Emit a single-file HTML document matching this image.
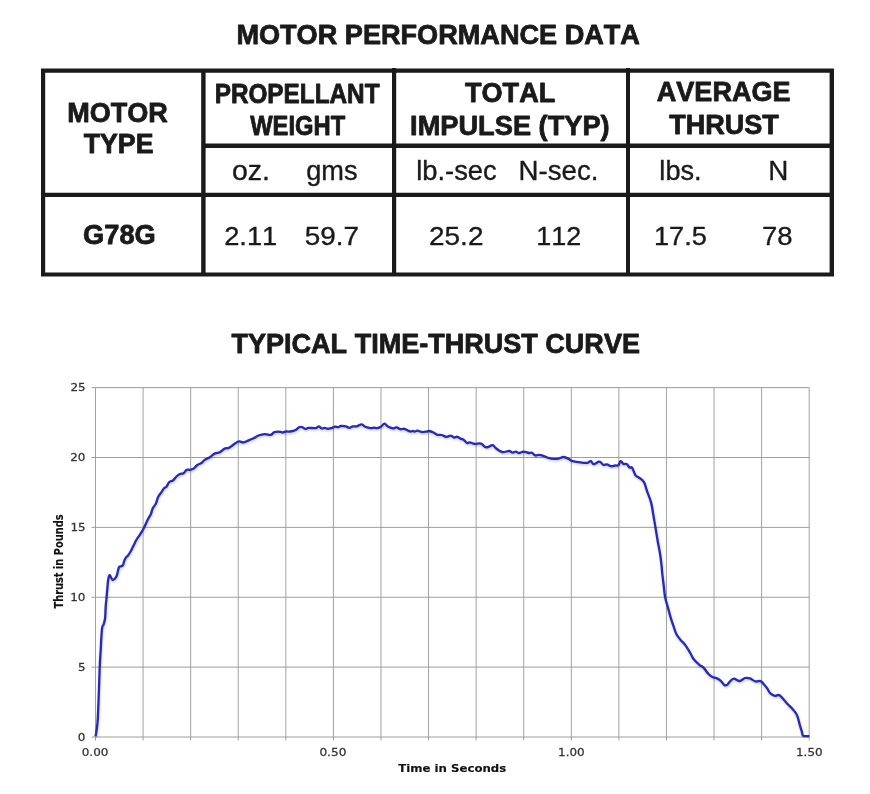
<!DOCTYPE html>
<html lang="en"><head><meta charset="utf-8"><title>Motor Performance Data</title>
<style>html,body{margin:0;padding:0;background:#fff}svg{display:block}text{font-kerning:none;font-variant-ligatures:none}</style></head>
<body>
<svg width="870" height="794" viewBox="0 0 870 794" role="img" aria-label="Motor performance data table and typical time-thrust curve">
<rect width="870" height="794" fill="#fff"/>
<path fill="#1a1a1a" fill-rule="nonzero" d="M41 68.6H834V72.8H41ZM41 272.4H834V276.6H41ZM41 68.6H45.2V276.6H41ZM829.6 68.6H834V276.6H829.6ZM201.2 68.6H205.6V276.6H201.2ZM392 68H396.2V276.6H392ZM626 68H630V276.6H626ZM201.2 143.6H834V148H201.2ZM41 192.8H834V197H41Z"/>
<g fill="#1a1a1a">
<text transform="translate(236.39 43.65) scale(0.9687 1)" font-family="'Liberation Sans', sans-serif" font-weight="bold" font-size="28.0"  stroke="#1a1a1a" stroke-width="0.8" stroke-linejoin="round" vector-effect="non-scaling-stroke">MOTOR PERFORMANCE DATA</text>
<text transform="translate(231.50 353.30) scale(0.9656 1)" font-family="'Liberation Sans', sans-serif" font-weight="bold" font-size="28.0"  stroke="#1a1a1a" stroke-width="0.8" stroke-linejoin="round" vector-effect="non-scaling-stroke">TYPICAL TIME-THRUST CURVE</text>
<text transform="translate(67.19 121.50) scale(0.9739 1)" font-family="'Liberation Sans', sans-serif" font-weight="bold" font-size="27.8"  stroke="#1a1a1a" stroke-width="0.8" stroke-linejoin="round" vector-effect="non-scaling-stroke">MOTOR</text>
<text transform="translate(83.70 153.40) scale(0.9619 1)" font-family="'Liberation Sans', sans-serif" font-weight="bold" font-size="27.8"  stroke="#1a1a1a" stroke-width="0.8" stroke-linejoin="round" vector-effect="non-scaling-stroke">TYPE</text>
<text transform="translate(214.67 103.20) scale(0.8751 1)" font-family="'Liberation Sans', sans-serif" font-weight="bold" font-size="27.8"  stroke="#1a1a1a" stroke-width="0.8" stroke-linejoin="round" vector-effect="non-scaling-stroke">PROPELLANT</text>
<text transform="translate(250.18 135.30) scale(0.8551 1)" font-family="'Liberation Sans', sans-serif" font-weight="bold" font-size="27.8"  stroke="#1a1a1a" stroke-width="0.8" stroke-linejoin="round" vector-effect="non-scaling-stroke">WEIGHT</text>
<text transform="translate(465.00 102.40) scale(0.9740 1)" font-family="'Liberation Sans', sans-serif" font-weight="bold" font-size="27.8"  stroke="#1a1a1a" stroke-width="0.8" stroke-linejoin="round" vector-effect="non-scaling-stroke">TOTAL</text>
<text transform="translate(410.08 135.40) scale(0.9794 1)" font-family="'Liberation Sans', sans-serif" font-weight="bold" font-size="27.8"  stroke="#1a1a1a" stroke-width="0.8" stroke-linejoin="round" vector-effect="non-scaling-stroke">IMPULSE (TYP)</text>
<text transform="translate(656.83 101.20) scale(0.9720 1)" font-family="'Liberation Sans', sans-serif" font-weight="bold" font-size="27.8"  stroke="#1a1a1a" stroke-width="0.8" stroke-linejoin="round" vector-effect="non-scaling-stroke">AVERAGE</text>
<text transform="translate(669.20 133.80) scale(0.9730 1)" font-family="'Liberation Sans', sans-serif" font-weight="bold" font-size="27.8"  stroke="#1a1a1a" stroke-width="0.8" stroke-linejoin="round" vector-effect="non-scaling-stroke">THRUST</text>
<text transform="translate(83.08 243.65) scale(0.9733 1)" font-family="'Liberation Sans', sans-serif" font-weight="bold" font-size="28"  stroke="#1a1a1a" stroke-width="0.8" stroke-linejoin="round" vector-effect="non-scaling-stroke">G78G</text>
<text transform="translate(231.98 179.50) scale(1.0534 1)" font-family="'Liberation Sans', sans-serif" font-weight="normal" font-size="27"  stroke="#1a1a1a" stroke-width="0.35" stroke-linejoin="round" vector-effect="non-scaling-stroke">oz.</text>
<text transform="translate(306.23 179.50) scale(1.0072 1)" font-family="'Liberation Sans', sans-serif" font-weight="normal" font-size="27"  stroke="#1a1a1a" stroke-width="0.35" stroke-linejoin="round" vector-effect="non-scaling-stroke">gms</text>
<text transform="translate(416.13 179.50) scale(1.0137 1)" font-family="'Liberation Sans', sans-serif" font-weight="normal" font-size="27"  stroke="#1a1a1a" stroke-width="0.35" stroke-linejoin="round" vector-effect="non-scaling-stroke">lb.-sec</text>
<text transform="translate(518.51 179.50) scale(1.0249 1)" font-family="'Liberation Sans', sans-serif" font-weight="normal" font-size="27"  stroke="#1a1a1a" stroke-width="0.35" stroke-linejoin="round" vector-effect="non-scaling-stroke">N-sec.</text>
<text transform="translate(659.35 179.70) scale(1.0133 1)" font-family="'Liberation Sans', sans-serif" font-weight="normal" font-size="26.8"  stroke="#1a1a1a" stroke-width="0.35" stroke-linejoin="round" vector-effect="non-scaling-stroke">lbs.</text>
<text transform="translate(768.19 179.70) scale(1.0387 1)" font-family="'Liberation Sans', sans-serif" font-weight="normal" font-size="26.8"  stroke="#1a1a1a" stroke-width="0.35" stroke-linejoin="round" vector-effect="non-scaling-stroke">N</text>
<text transform="translate(224.15 244.85) scale(1.0510 1)" font-family="'Liberation Sans', sans-serif" font-weight="normal" font-size="26.0"  stroke="#1a1a1a" stroke-width="0.35" stroke-linejoin="round" vector-effect="non-scaling-stroke">2.11</text>
<text transform="translate(304.86 244.85) scale(1.0724 1)" font-family="'Liberation Sans', sans-serif" font-weight="normal" font-size="26.0"  stroke="#1a1a1a" stroke-width="0.35" stroke-linejoin="round" vector-effect="non-scaling-stroke">59.7</text>
<text transform="translate(429.07 244.85) scale(1.0742 1)" font-family="'Liberation Sans', sans-serif" font-weight="normal" font-size="26.0"  stroke="#1a1a1a" stroke-width="0.35" stroke-linejoin="round" vector-effect="non-scaling-stroke">25.2</text>
<text transform="translate(536.18 244.85) scale(1.0374 1)" font-family="'Liberation Sans', sans-serif" font-weight="normal" font-size="26.0"  stroke="#1a1a1a" stroke-width="0.35" stroke-linejoin="round" vector-effect="non-scaling-stroke">112</text>
<text transform="translate(653.96 244.85) scale(1.0455 1)" font-family="'Liberation Sans', sans-serif" font-weight="normal" font-size="26.0"  stroke="#1a1a1a" stroke-width="0.35" stroke-linejoin="round" vector-effect="non-scaling-stroke">17.5</text>
<text transform="translate(762.07 244.85) scale(1.0564 1)" font-family="'Liberation Sans', sans-serif" font-weight="normal" font-size="26.0"  stroke="#1a1a1a" stroke-width="0.35" stroke-linejoin="round" vector-effect="non-scaling-stroke">78</text>
</g>
<g stroke="#a0a2a2" stroke-width="1" fill="none">
<line x1="95.50" y1="387.62" x2="95.50" y2="740.50"/>
<line x1="143.08" y1="387.62" x2="143.08" y2="740.50"/>
<line x1="190.66" y1="387.62" x2="190.66" y2="740.50"/>
<line x1="238.24" y1="387.62" x2="238.24" y2="740.50"/>
<line x1="285.82" y1="387.62" x2="285.82" y2="740.50"/>
<line x1="333.40" y1="387.62" x2="333.40" y2="740.50"/>
<line x1="380.98" y1="387.62" x2="380.98" y2="740.50"/>
<line x1="428.56" y1="387.62" x2="428.56" y2="740.50"/>
<line x1="476.14" y1="387.62" x2="476.14" y2="740.50"/>
<line x1="523.72" y1="387.62" x2="523.72" y2="740.50"/>
<line x1="571.30" y1="387.62" x2="571.30" y2="740.50"/>
<line x1="618.88" y1="387.62" x2="618.88" y2="740.50"/>
<line x1="666.46" y1="387.62" x2="666.46" y2="740.50"/>
<line x1="714.04" y1="387.62" x2="714.04" y2="740.50"/>
<line x1="761.62" y1="387.62" x2="761.62" y2="740.50"/>
<line x1="809.20" y1="387.62" x2="809.20" y2="740.50"/>
</g>
<line x1="91.50" y1="737.00" x2="809.20" y2="737.00" stroke="#9c9e9e" stroke-width="1"/>
<line x1="91.50" y1="667.12" x2="809.20" y2="667.12" stroke="#9c9e9e" stroke-width="1"/>
<line x1="91.50" y1="597.25" x2="809.20" y2="597.25" stroke="#9c9e9e" stroke-width="1"/>
<line x1="91.50" y1="527.37" x2="809.20" y2="527.37" stroke="#9c9e9e" stroke-width="1"/>
<line x1="91.50" y1="457.50" x2="809.20" y2="457.50" stroke="#9c9e9e" stroke-width="1"/>
<line x1="91.50" y1="387.62" x2="809.20" y2="387.62" stroke="#9c9e9e" stroke-width="1"/>
<defs><clipPath id="plot"><rect x="90" y="380" width="719.90" height="357.90"/></clipPath></defs>
<g clip-path="url(#plot)">
<defs><filter id="sh" x="-5%" y="-5%" width="110%" height="110%"><feGaussianBlur stdDeviation="0.9"/></filter></defs>
<path d="M95.6 736.3C95.9 734.7 96.5 731.8 96.9 728.2C97.3 724.6 97.4 724.9 97.8 718.1C98.2 711.3 98.4 704.8 98.8 694.2C99.2 683.6 99.4 674.0 99.8 665.2C100.2 656.4 100.4 655.4 100.7 650.0C101.0 644.6 101.0 642.7 101.3 638.2C101.6 633.7 101.7 630.3 102.2 627.5C102.7 624.7 103.0 626.2 103.6 624.3C104.2 622.4 104.7 621.5 105.1 618.0C105.5 614.5 105.4 610.9 105.7 606.7C106.0 602.5 106.3 601.0 106.6 597.2C106.9 593.4 107.1 591.4 107.4 587.8C107.7 584.2 107.9 581.5 108.3 579.0C108.7 576.5 109.0 575.6 109.5 575.2C110.0 574.8 110.2 576.2 110.8 577.1C111.4 578.0 111.6 579.2 112.4 579.6C113.2 580.0 113.7 579.8 114.6 579.0C115.5 578.2 116.0 577.4 116.7 575.8C117.4 574.2 117.5 572.6 118.0 570.8C118.5 569.0 118.5 567.9 119.2 567.0C119.9 566.1 120.7 566.5 121.5 566.1C122.3 565.7 122.4 566.0 123.0 564.9C123.6 563.8 123.7 562.2 124.3 560.7C124.9 559.2 125.2 558.6 125.9 557.6C126.6 556.6 126.9 556.8 127.8 555.7C128.7 554.6 129.2 553.9 130.3 552.0C131.4 550.1 132.0 548.7 133.2 546.3C134.4 543.9 134.9 542.4 136.3 540.0C137.7 537.6 138.6 536.7 140.1 534.3C141.6 531.9 142.4 530.9 143.9 528.0C145.4 525.1 146.3 522.6 147.7 519.8C149.1 517.0 149.8 516.5 150.8 514.2C151.8 511.9 151.7 510.6 152.7 508.5C153.7 506.4 154.8 505.8 155.9 503.5C157.0 501.2 156.9 499.5 158.0 497.2C159.1 494.9 160.3 493.9 161.5 492.1C162.7 490.3 163.0 489.4 164.0 488.3C165.0 487.2 165.5 487.7 166.6 486.4C167.7 485.1 168.0 483.2 169.3 482.0C170.6 480.8 171.6 481.5 172.9 480.5C174.2 479.5 174.6 478.3 176.0 477.0C177.4 475.7 178.3 474.9 179.8 474.1C181.3 473.3 182.2 474.1 183.6 473.2C185.0 472.3 185.4 470.5 186.7 469.8C188.0 469.1 188.5 470.0 189.9 469.8C191.3 469.6 192.1 469.6 193.6 468.6C195.1 467.6 195.8 466.2 197.4 465.0C199.0 463.8 200.3 463.8 201.8 462.8C203.3 461.8 203.0 461.1 204.7 459.9C206.4 458.7 208.1 458.2 210.2 456.9C212.3 455.6 213.1 454.3 215.0 453.4C216.9 452.5 217.9 453.3 219.8 452.3C221.7 451.3 222.9 449.5 224.7 448.6C226.5 447.7 227.0 448.7 228.8 447.9C230.6 447.1 231.6 445.8 233.6 444.5C235.6 443.2 237.0 441.8 238.9 441.4C240.8 441.0 241.5 442.6 243.3 442.4C245.1 442.2 246.0 441.4 248.1 440.6C250.2 439.8 251.5 439.3 253.6 438.3C255.7 437.3 256.2 436.3 258.4 435.5C260.6 434.7 262.2 434.2 264.7 434.1C267.2 434.0 269.0 435.2 270.9 434.8C272.8 434.4 272.4 432.7 274.3 432.1C276.2 431.5 278.8 431.7 280.5 431.8C282.2 431.9 281.5 432.6 282.6 432.5C283.7 432.4 284.5 431.7 286.0 431.5C287.5 431.3 288.3 431.8 290.2 431.5C292.1 431.2 293.9 430.9 295.7 430.0C297.5 429.1 297.9 427.8 299.1 427.2C300.3 426.6 300.7 426.7 301.9 427.0C303.1 427.3 303.9 428.7 305.3 428.9C306.7 429.1 306.8 428.1 308.8 427.9C310.8 427.7 313.5 428.4 315.5 428.1C317.5 427.8 317.8 426.3 319.0 426.4C320.2 426.5 320.6 428.2 321.7 428.5C322.8 428.8 323.3 427.7 324.5 427.8C325.7 427.9 326.4 428.8 327.9 428.8C329.4 428.8 330.7 428.2 332.1 427.8C333.5 427.4 333.6 426.8 334.8 426.7C336.0 426.6 337.1 427.2 338.3 427.1C339.5 427.0 339.5 426.1 341.0 426.0C342.5 425.9 344.2 426.0 345.9 426.4C347.6 426.8 347.9 427.8 349.3 427.8C350.7 427.8 351.3 426.7 352.8 426.4C354.3 426.1 355.1 426.7 356.9 426.3C358.7 425.9 360.0 424.3 361.7 424.4C363.4 424.5 363.4 426.0 365.2 426.7C367.0 427.4 368.9 427.9 370.7 428.1C372.5 428.3 372.9 427.6 374.1 427.6C375.3 427.6 375.5 428.3 376.9 428.1C378.3 427.9 379.5 427.6 381.0 426.7C382.5 425.8 383.1 423.8 384.5 423.7C385.9 423.6 386.2 425.5 387.9 426.4C389.6 427.3 391.1 428.2 392.8 428.4C394.5 428.6 395.1 427.2 396.6 427.4C398.1 427.6 398.7 428.9 400.3 429.2C401.9 429.5 402.6 428.4 404.5 428.8C406.4 429.2 408.3 431.0 410.0 431.4C411.7 431.8 411.8 430.9 412.8 430.9C413.8 430.9 413.8 431.7 414.8 431.6C415.8 431.5 416.2 430.5 417.6 430.6C419.0 430.7 419.9 431.8 421.7 432.0C423.5 432.2 425.2 431.8 426.6 431.6C428.0 431.4 427.4 430.8 428.9 431.0C430.4 431.2 432.3 432.0 434.0 432.8C435.7 433.6 435.9 434.4 437.4 434.8C438.9 435.2 439.8 434.6 441.6 435.0C443.4 435.4 444.5 436.7 446.4 436.8C448.3 436.9 449.4 435.5 450.9 435.6C452.4 435.7 452.7 437.3 454.0 437.5C455.3 437.7 456.0 436.5 457.4 436.8C458.8 437.1 459.7 438.3 460.9 438.9C462.1 439.5 462.4 438.9 463.6 439.7C464.8 440.5 465.9 442.5 467.1 443.0C468.3 443.5 468.3 442.1 469.8 442.3C471.3 442.5 472.5 443.6 474.7 443.9C476.9 444.2 478.8 443.0 480.9 443.6C483.0 444.2 483.5 446.2 485.0 446.9C486.5 447.6 486.9 447.3 488.4 446.9C489.9 446.5 491.1 444.8 492.6 445.1C494.1 445.4 494.1 446.9 496.0 448.3C497.9 449.7 499.6 451.5 502.2 452.0C504.8 452.5 507.0 450.9 509.1 451.0C511.2 451.1 511.2 452.6 512.6 452.7C514.0 452.8 514.8 451.5 516.0 451.6C517.2 451.7 517.3 453.0 518.8 453.0C520.3 453.0 521.5 451.7 523.6 451.7C525.7 451.7 527.4 452.8 529.1 453.0C530.8 453.2 530.7 452.2 531.9 452.7C533.1 453.2 533.9 455.0 535.3 455.4C536.7 455.8 537.0 454.8 538.8 454.9C540.6 455.0 542.2 455.5 544.1 456.1C546.0 456.7 546.2 457.3 548.3 457.9C550.4 458.5 552.2 458.8 554.5 458.9C556.8 459.0 558.2 458.6 560.0 458.2C561.8 457.8 561.7 456.9 563.4 457.0C565.1 457.1 566.6 457.8 568.3 458.6C570.0 459.4 569.6 460.1 571.7 460.8C573.8 461.5 576.1 461.7 578.6 462.1C581.1 462.5 582.3 462.7 584.1 462.8C585.9 462.9 586.3 463.1 587.6 462.8C588.9 462.5 589.6 460.8 590.8 461.1C592.0 461.4 592.1 464.0 593.8 464.1C595.5 464.2 597.4 461.6 599.3 461.7C601.2 461.8 601.9 464.3 603.4 464.8C604.9 465.3 605.4 464.1 606.9 464.4C608.4 464.7 609.3 466.0 611.0 466.2C612.7 466.4 613.7 465.7 615.2 465.5C616.7 465.3 617.2 466.1 618.3 465.2C619.4 464.3 619.7 461.4 620.7 461.1C621.7 460.8 622.2 463.3 623.4 463.9C624.6 464.5 625.3 463.4 626.6 464.1C627.9 464.8 628.6 466.9 629.7 467.6C630.8 468.3 631.0 466.1 632.1 467.6C633.2 469.1 634.1 473.2 635.4 475.2C636.7 477.2 637.1 476.1 638.8 477.5C640.5 478.9 642.4 479.5 644.0 482.2C645.6 484.9 645.6 487.0 647.0 491.1C648.4 495.2 649.9 498.0 651.1 502.6C652.3 507.2 652.4 509.3 653.2 514.1C654.0 518.9 654.4 521.1 655.3 526.4C656.2 531.7 656.7 535.2 657.6 540.5C658.5 545.8 659.1 547.9 659.9 552.8C660.7 557.7 661.0 560.6 661.5 565.2C662.0 569.8 662.0 571.5 662.5 575.7C663.0 579.9 663.3 581.9 663.8 586.3C664.3 590.7 664.3 593.1 665.2 597.5C666.1 601.9 667.1 604.3 668.2 608.5C669.3 612.7 669.8 614.8 670.9 618.4C672.0 622.0 672.6 623.5 673.7 626.7C674.8 629.9 675.1 631.7 676.5 634.3C677.9 636.9 678.8 637.7 680.6 639.9C682.4 642.1 683.6 642.8 685.5 645.4C687.4 648.0 688.6 650.2 690.3 653.0C692.0 655.8 692.0 656.9 693.8 659.3C695.6 661.7 697.4 663.1 699.3 664.8C701.2 666.5 701.7 665.8 703.5 667.6C705.3 669.4 706.5 671.9 708.3 673.8C710.1 675.7 710.8 676.1 712.5 677.0C714.2 677.9 715.0 677.5 716.7 678.3C718.4 679.1 719.3 679.5 720.8 680.8C722.3 682.1 723.0 684.1 724.3 684.9C725.6 685.7 725.9 685.7 727.1 684.9C728.3 684.1 729.1 682.0 730.5 680.8C731.9 679.6 732.2 678.7 734.0 678.7C735.8 678.7 737.3 681.1 739.5 681.0C741.7 680.9 743.0 678.5 745.1 678.0C747.2 677.5 747.8 677.7 749.9 678.4C752.0 679.1 753.4 680.9 755.5 681.4C757.6 681.9 758.9 680.6 760.5 681.1C762.1 681.6 762.3 682.6 763.6 684.0C764.9 685.4 765.7 686.2 766.9 687.9C768.1 689.6 768.6 691.2 769.7 692.6C770.8 694.0 771.4 694.1 772.5 694.7C773.6 695.3 774.2 695.7 775.3 695.8C776.4 695.9 777.2 695.0 778.1 695.0C779.0 695.0 778.8 694.7 780.0 695.7C781.2 696.7 782.7 698.4 784.3 700.2C785.9 702.0 786.5 702.8 788.1 704.5C789.7 706.2 790.7 706.9 792.3 708.7C793.9 710.5 795.0 711.6 796.1 713.5C797.2 715.4 797.2 715.8 798.0 718.2C798.8 720.6 799.1 722.7 799.9 725.3C800.7 727.9 801.1 729.3 801.8 731.4C802.5 733.5 801.7 734.8 803.2 735.7C804.7 736.6 808.1 736.0 809.3 736.1" fill="none" stroke="#000" stroke-opacity="0.22" stroke-width="2.4" stroke-linejoin="round" stroke-linecap="round" transform="translate(0.4 1.3)" filter="url(#sh)"/>
<path d="M95.6 736.3C95.9 734.7 96.5 731.8 96.9 728.2C97.3 724.6 97.4 724.9 97.8 718.1C98.2 711.3 98.4 704.8 98.8 694.2C99.2 683.6 99.4 674.0 99.8 665.2C100.2 656.4 100.4 655.4 100.7 650.0C101.0 644.6 101.0 642.7 101.3 638.2C101.6 633.7 101.7 630.3 102.2 627.5C102.7 624.7 103.0 626.2 103.6 624.3C104.2 622.4 104.7 621.5 105.1 618.0C105.5 614.5 105.4 610.9 105.7 606.7C106.0 602.5 106.3 601.0 106.6 597.2C106.9 593.4 107.1 591.4 107.4 587.8C107.7 584.2 107.9 581.5 108.3 579.0C108.7 576.5 109.0 575.6 109.5 575.2C110.0 574.8 110.2 576.2 110.8 577.1C111.4 578.0 111.6 579.2 112.4 579.6C113.2 580.0 113.7 579.8 114.6 579.0C115.5 578.2 116.0 577.4 116.7 575.8C117.4 574.2 117.5 572.6 118.0 570.8C118.5 569.0 118.5 567.9 119.2 567.0C119.9 566.1 120.7 566.5 121.5 566.1C122.3 565.7 122.4 566.0 123.0 564.9C123.6 563.8 123.7 562.2 124.3 560.7C124.9 559.2 125.2 558.6 125.9 557.6C126.6 556.6 126.9 556.8 127.8 555.7C128.7 554.6 129.2 553.9 130.3 552.0C131.4 550.1 132.0 548.7 133.2 546.3C134.4 543.9 134.9 542.4 136.3 540.0C137.7 537.6 138.6 536.7 140.1 534.3C141.6 531.9 142.4 530.9 143.9 528.0C145.4 525.1 146.3 522.6 147.7 519.8C149.1 517.0 149.8 516.5 150.8 514.2C151.8 511.9 151.7 510.6 152.7 508.5C153.7 506.4 154.8 505.8 155.9 503.5C157.0 501.2 156.9 499.5 158.0 497.2C159.1 494.9 160.3 493.9 161.5 492.1C162.7 490.3 163.0 489.4 164.0 488.3C165.0 487.2 165.5 487.7 166.6 486.4C167.7 485.1 168.0 483.2 169.3 482.0C170.6 480.8 171.6 481.5 172.9 480.5C174.2 479.5 174.6 478.3 176.0 477.0C177.4 475.7 178.3 474.9 179.8 474.1C181.3 473.3 182.2 474.1 183.6 473.2C185.0 472.3 185.4 470.5 186.7 469.8C188.0 469.1 188.5 470.0 189.9 469.8C191.3 469.6 192.1 469.6 193.6 468.6C195.1 467.6 195.8 466.2 197.4 465.0C199.0 463.8 200.3 463.8 201.8 462.8C203.3 461.8 203.0 461.1 204.7 459.9C206.4 458.7 208.1 458.2 210.2 456.9C212.3 455.6 213.1 454.3 215.0 453.4C216.9 452.5 217.9 453.3 219.8 452.3C221.7 451.3 222.9 449.5 224.7 448.6C226.5 447.7 227.0 448.7 228.8 447.9C230.6 447.1 231.6 445.8 233.6 444.5C235.6 443.2 237.0 441.8 238.9 441.4C240.8 441.0 241.5 442.6 243.3 442.4C245.1 442.2 246.0 441.4 248.1 440.6C250.2 439.8 251.5 439.3 253.6 438.3C255.7 437.3 256.2 436.3 258.4 435.5C260.6 434.7 262.2 434.2 264.7 434.1C267.2 434.0 269.0 435.2 270.9 434.8C272.8 434.4 272.4 432.7 274.3 432.1C276.2 431.5 278.8 431.7 280.5 431.8C282.2 431.9 281.5 432.6 282.6 432.5C283.7 432.4 284.5 431.7 286.0 431.5C287.5 431.3 288.3 431.8 290.2 431.5C292.1 431.2 293.9 430.9 295.7 430.0C297.5 429.1 297.9 427.8 299.1 427.2C300.3 426.6 300.7 426.7 301.9 427.0C303.1 427.3 303.9 428.7 305.3 428.9C306.7 429.1 306.8 428.1 308.8 427.9C310.8 427.7 313.5 428.4 315.5 428.1C317.5 427.8 317.8 426.3 319.0 426.4C320.2 426.5 320.6 428.2 321.7 428.5C322.8 428.8 323.3 427.7 324.5 427.8C325.7 427.9 326.4 428.8 327.9 428.8C329.4 428.8 330.7 428.2 332.1 427.8C333.5 427.4 333.6 426.8 334.8 426.7C336.0 426.6 337.1 427.2 338.3 427.1C339.5 427.0 339.5 426.1 341.0 426.0C342.5 425.9 344.2 426.0 345.9 426.4C347.6 426.8 347.9 427.8 349.3 427.8C350.7 427.8 351.3 426.7 352.8 426.4C354.3 426.1 355.1 426.7 356.9 426.3C358.7 425.9 360.0 424.3 361.7 424.4C363.4 424.5 363.4 426.0 365.2 426.7C367.0 427.4 368.9 427.9 370.7 428.1C372.5 428.3 372.9 427.6 374.1 427.6C375.3 427.6 375.5 428.3 376.9 428.1C378.3 427.9 379.5 427.6 381.0 426.7C382.5 425.8 383.1 423.8 384.5 423.7C385.9 423.6 386.2 425.5 387.9 426.4C389.6 427.3 391.1 428.2 392.8 428.4C394.5 428.6 395.1 427.2 396.6 427.4C398.1 427.6 398.7 428.9 400.3 429.2C401.9 429.5 402.6 428.4 404.5 428.8C406.4 429.2 408.3 431.0 410.0 431.4C411.7 431.8 411.8 430.9 412.8 430.9C413.8 430.9 413.8 431.7 414.8 431.6C415.8 431.5 416.2 430.5 417.6 430.6C419.0 430.7 419.9 431.8 421.7 432.0C423.5 432.2 425.2 431.8 426.6 431.6C428.0 431.4 427.4 430.8 428.9 431.0C430.4 431.2 432.3 432.0 434.0 432.8C435.7 433.6 435.9 434.4 437.4 434.8C438.9 435.2 439.8 434.6 441.6 435.0C443.4 435.4 444.5 436.7 446.4 436.8C448.3 436.9 449.4 435.5 450.9 435.6C452.4 435.7 452.7 437.3 454.0 437.5C455.3 437.7 456.0 436.5 457.4 436.8C458.8 437.1 459.7 438.3 460.9 438.9C462.1 439.5 462.4 438.9 463.6 439.7C464.8 440.5 465.9 442.5 467.1 443.0C468.3 443.5 468.3 442.1 469.8 442.3C471.3 442.5 472.5 443.6 474.7 443.9C476.9 444.2 478.8 443.0 480.9 443.6C483.0 444.2 483.5 446.2 485.0 446.9C486.5 447.6 486.9 447.3 488.4 446.9C489.9 446.5 491.1 444.8 492.6 445.1C494.1 445.4 494.1 446.9 496.0 448.3C497.9 449.7 499.6 451.5 502.2 452.0C504.8 452.5 507.0 450.9 509.1 451.0C511.2 451.1 511.2 452.6 512.6 452.7C514.0 452.8 514.8 451.5 516.0 451.6C517.2 451.7 517.3 453.0 518.8 453.0C520.3 453.0 521.5 451.7 523.6 451.7C525.7 451.7 527.4 452.8 529.1 453.0C530.8 453.2 530.7 452.2 531.9 452.7C533.1 453.2 533.9 455.0 535.3 455.4C536.7 455.8 537.0 454.8 538.8 454.9C540.6 455.0 542.2 455.5 544.1 456.1C546.0 456.7 546.2 457.3 548.3 457.9C550.4 458.5 552.2 458.8 554.5 458.9C556.8 459.0 558.2 458.6 560.0 458.2C561.8 457.8 561.7 456.9 563.4 457.0C565.1 457.1 566.6 457.8 568.3 458.6C570.0 459.4 569.6 460.1 571.7 460.8C573.8 461.5 576.1 461.7 578.6 462.1C581.1 462.5 582.3 462.7 584.1 462.8C585.9 462.9 586.3 463.1 587.6 462.8C588.9 462.5 589.6 460.8 590.8 461.1C592.0 461.4 592.1 464.0 593.8 464.1C595.5 464.2 597.4 461.6 599.3 461.7C601.2 461.8 601.9 464.3 603.4 464.8C604.9 465.3 605.4 464.1 606.9 464.4C608.4 464.7 609.3 466.0 611.0 466.2C612.7 466.4 613.7 465.7 615.2 465.5C616.7 465.3 617.2 466.1 618.3 465.2C619.4 464.3 619.7 461.4 620.7 461.1C621.7 460.8 622.2 463.3 623.4 463.9C624.6 464.5 625.3 463.4 626.6 464.1C627.9 464.8 628.6 466.9 629.7 467.6C630.8 468.3 631.0 466.1 632.1 467.6C633.2 469.1 634.1 473.2 635.4 475.2C636.7 477.2 637.1 476.1 638.8 477.5C640.5 478.9 642.4 479.5 644.0 482.2C645.6 484.9 645.6 487.0 647.0 491.1C648.4 495.2 649.9 498.0 651.1 502.6C652.3 507.2 652.4 509.3 653.2 514.1C654.0 518.9 654.4 521.1 655.3 526.4C656.2 531.7 656.7 535.2 657.6 540.5C658.5 545.8 659.1 547.9 659.9 552.8C660.7 557.7 661.0 560.6 661.5 565.2C662.0 569.8 662.0 571.5 662.5 575.7C663.0 579.9 663.3 581.9 663.8 586.3C664.3 590.7 664.3 593.1 665.2 597.5C666.1 601.9 667.1 604.3 668.2 608.5C669.3 612.7 669.8 614.8 670.9 618.4C672.0 622.0 672.6 623.5 673.7 626.7C674.8 629.9 675.1 631.7 676.5 634.3C677.9 636.9 678.8 637.7 680.6 639.9C682.4 642.1 683.6 642.8 685.5 645.4C687.4 648.0 688.6 650.2 690.3 653.0C692.0 655.8 692.0 656.9 693.8 659.3C695.6 661.7 697.4 663.1 699.3 664.8C701.2 666.5 701.7 665.8 703.5 667.6C705.3 669.4 706.5 671.9 708.3 673.8C710.1 675.7 710.8 676.1 712.5 677.0C714.2 677.9 715.0 677.5 716.7 678.3C718.4 679.1 719.3 679.5 720.8 680.8C722.3 682.1 723.0 684.1 724.3 684.9C725.6 685.7 725.9 685.7 727.1 684.9C728.3 684.1 729.1 682.0 730.5 680.8C731.9 679.6 732.2 678.7 734.0 678.7C735.8 678.7 737.3 681.1 739.5 681.0C741.7 680.9 743.0 678.5 745.1 678.0C747.2 677.5 747.8 677.7 749.9 678.4C752.0 679.1 753.4 680.9 755.5 681.4C757.6 681.9 758.9 680.6 760.5 681.1C762.1 681.6 762.3 682.6 763.6 684.0C764.9 685.4 765.7 686.2 766.9 687.9C768.1 689.6 768.6 691.2 769.7 692.6C770.8 694.0 771.4 694.1 772.5 694.7C773.6 695.3 774.2 695.7 775.3 695.8C776.4 695.9 777.2 695.0 778.1 695.0C779.0 695.0 778.8 694.7 780.0 695.7C781.2 696.7 782.7 698.4 784.3 700.2C785.9 702.0 786.5 702.8 788.1 704.5C789.7 706.2 790.7 706.9 792.3 708.7C793.9 710.5 795.0 711.6 796.1 713.5C797.2 715.4 797.2 715.8 798.0 718.2C798.8 720.6 799.1 722.7 799.9 725.3C800.7 727.9 801.1 729.3 801.8 731.4C802.5 733.5 801.7 734.8 803.2 735.7C804.7 736.6 808.1 736.0 809.3 736.1" fill="none" stroke="#242bb8" stroke-width="2.3" stroke-linejoin="round" stroke-linecap="butt"/>
</g>
<g fill="#333" stroke="#333" stroke-width="0.25" font-family="'DejaVu Sans', sans-serif" font-size="11">
<text transform="translate(77.77 740.85) scale(1.09 1)">0</text>
<text transform="translate(78.02 670.97) scale(1.09 1)">5</text>
<text transform="translate(70.14 601.10) scale(1.09 1)">10</text>
<text transform="translate(70.39 531.22) scale(1.09 1)">15</text>
<text transform="translate(70.14 461.35) scale(1.09 1)">20</text>
<text transform="translate(70.39 391.47) scale(1.09 1)">25</text>
<text transform="translate(81.71 755.5) scale(1.0896 1)">0.00</text>
<text transform="translate(319.40 755.5) scale(1.1026 1)">0.50</text>
<text transform="translate(558.09 755.5) scale(1.0863 1)">1.00</text>
<text transform="translate(795.99 755.5) scale(1.0863 1)">1.50</text>
</g>
<g fill="#111">
<text transform="translate(398.22 772.30) scale(1.0691 1)" font-family="'DejaVu Sans', sans-serif" font-weight="bold" font-size="11"  stroke="#111" stroke-width="0.15" stroke-linejoin="round" vector-effect="non-scaling-stroke">Time in Seconds</text>
<text transform="translate(63.4 608.55) rotate(-90) scale(0.8063 1)" font-family="'DejaVu Sans', sans-serif" font-weight="bold" font-size="12.2" stroke="#111" stroke-width="0.15">Thrust in Pounds</text>
</g>
</svg>
</body></html>
